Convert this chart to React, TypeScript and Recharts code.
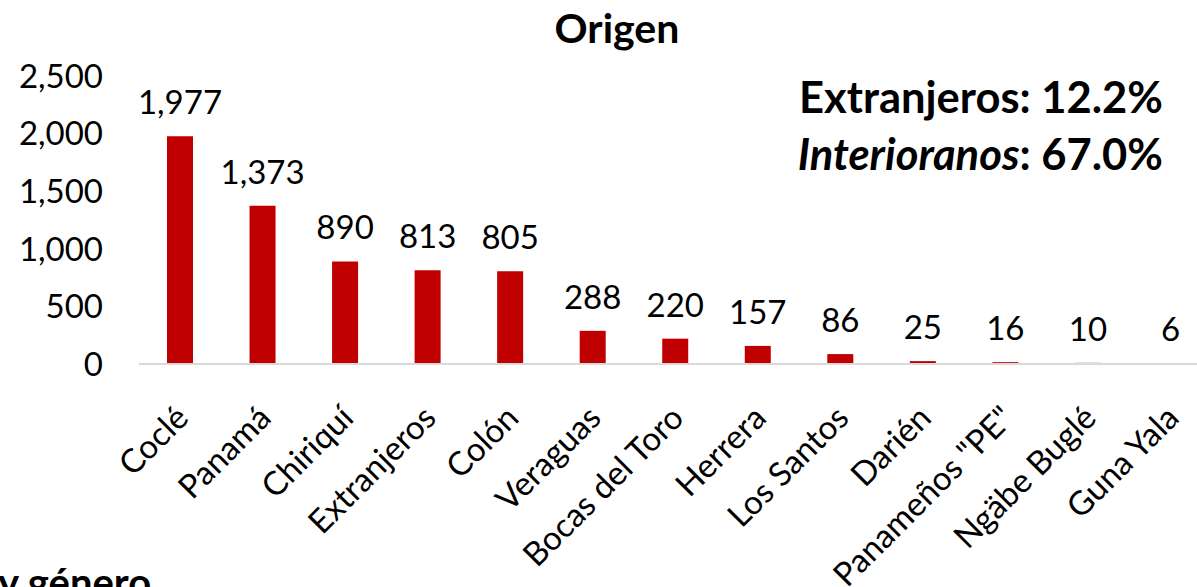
import { BarChart, Bar, XAxis, YAxis, LabelList } from 'recharts';

const categories = [
  'Coclé',
  'Panamá',
  'Chiriquí',
  'Extranjeros',
  'Colón',
  'Veraguas',
  'Bocas del Toro',
  'Herrera',
  'Los Santos',
  'Darién',
  'Panameños "PE"',
  'Ngäbe Buglé',
  'Guna Yala',
];
const counts = [1977, 1373, 890, 813, 805, 288, 220, 157, 86, 25, 16, 10, 6];
const yTicks = [0, 500, 1000, 1500, 2000, 2500];

const data = categories.map((name, i) => ({ name, value: counts[i] }));

const FONT = 'Lato, "Open Sans", sans-serif';
const fmt = (v: number) => v.toLocaleString('en-US');

// rotated category label, end of text sits just under the bar
function CategoryTick(props: any) {
  const { x, y, payload } = props;
  return (
    <text
      transform={`translate(${x + 10},${y + 56}) rotate(-45)`}
      textAnchor="end"
      fontSize={33}
      fontFamily={FONT}
      fill="#000"
    >
      {payload.value}
    </text>
  );
}

export default function App() {
  return (
    <div
      style={{
        position: 'absolute',
        left: 0,
        top: 0,
        width: 1197,
        height: 587,
        overflow: 'hidden',
        background: '#fff',
        fontFamily: FONT,
      }}
    >
      <BarChart
        width={1230}
        height={587}
        data={data}
        margin={{ top: 76, right: 18, left: 0, bottom: 23 }}
      >
        <XAxis
          dataKey="name"
          interval={0}
          height={200}
          tickLine={false}
          tickSize={0}
          tickMargin={0}
          axisLine={{ stroke: '#d9d9d9', strokeWidth: 2 }}
          tick={<CategoryTick />}
        />
        <YAxis
          width={139}
          domain={[0, 2500]}
          ticks={yTicks}
          axisLine={false}
          tickLine={false}
          tickSize={0}
          tickMargin={36}
          tickFormatter={fmt}
          tick={{ fontSize: 33, fill: '#000', fontFamily: FONT }}
        />
        <Bar dataKey="value" fill="#c00000" barSize={26} isAnimationActive={false}>
          <LabelList
            dataKey="value"
            position="top"
            offset={22}
            formatter={(v: any) => fmt(Number(v))}
            style={{ fontSize: 33, fill: '#000', fontFamily: FONT }}
          />
        </Bar>
      </BarChart>

      <div
        style={{
          position: 'absolute',
          left: 517,
          width: 200,
          top: 7,
          textAlign: 'center',
          fontSize: 41,
          fontWeight: 700,
          lineHeight: 1,
        }}
      >
        Origen
      </div>

      <div
        style={{
          position: 'absolute',
          right: 1197 - 1163,
          top: 68,
          textAlign: 'right',
          fontSize: 43.5,
          fontWeight: 700,
          lineHeight: '57px',
        }}
      >
        <div>Extranjeros: 12.2%</div>
        <div>
          <i>Interioranos</i>: 67.0%
        </div>
      </div>

      <div
        style={{
          position: 'absolute',
          left: -2,
          top: 562,
          fontSize: 40,
          fontWeight: 700,
          lineHeight: 1,
          whiteSpace: 'nowrap',
        }}
      >
        y género
      </div>
    </div>
  );
}
